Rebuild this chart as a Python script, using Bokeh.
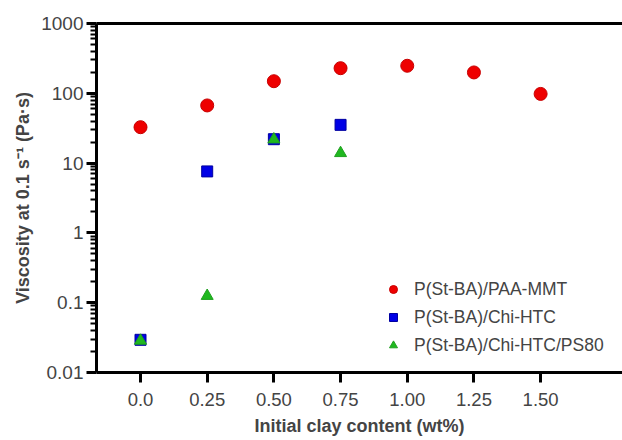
from bokeh.plotting import figure
from bokeh.models import FixedTicker, LinearAxis, Legend, LegendItem, Range1d
from bokeh.embed import file_html
from bokeh.resources import INLINE

# ---- data ----
clay_paa = [0.0, 0.25, 0.50, 0.75, 1.00, 1.25, 1.50]
visc_paa = [32.7, 67.0, 149.0, 229.0, 248.0, 199.0, 98.0]

clay_chi = [0.0, 0.25, 0.50, 0.75]
visc_chi = [0.0294, 7.6, 22.0, 35.3]

clay_ps80 = [0.0, 0.25, 0.50, 0.75]
visc_ps80 = [0.0285, 0.125, 21.8, 13.9]

x_ticks = [0.0, 0.25, 0.50, 0.75, 1.00, 1.25, 1.50]
x_tick_labels = ["0.0", "0.25", "0.50", "0.75", "1.00", "1.25", "1.50"]
y_ticks = [0.01, 0.1, 1, 10, 100, 1000]
y_tick_labels = ["0.01", "0.1", "1", "10", "100", "1000"]

names = ["P(St-BA)/PAA-MMT", "P(St-BA)/Chi-HTC", "P(St-BA)/Chi-HTC/PS80"]

FONT = "Liberation Sans"

p = figure(width=622, height=440, y_axis_type="log",
           x_range=Range1d(-0.165, 1.807), y_range=Range1d(0.01, 1000),
           output_backend="svg", toolbar_location=None,
           min_border_left=96, min_border_right=0, min_border_top=23,
           min_border_bottom=68)
p.outline_line_color = None
p.xgrid.visible = False
p.ygrid.visible = False
p.background_fill_color = "white"
p.border_fill_color = "white"

r1 = p.scatter(clay_paa, visc_paa, marker="circle", size=13,
               fill_color="#ee0000", line_color="#c80000", line_width=1)
r2 = p.scatter(clay_chi, visc_chi, marker="square", size=11,
               fill_color="#0000e6", line_color="#0000a0", line_width=1)
r3 = p.scatter(clay_ps80, visc_ps80, marker="triangle", size=12,
               fill_color="#1fb81f", line_color="#1fa01f", line_width=1)

# x axis
xa = p.xaxis[0]
xa.ticker = FixedTicker(ticks=x_ticks)
xa.major_label_overrides = {t: l for t, l in zip(x_ticks, x_tick_labels)}
xa.axis_line_width = 3
xa.major_tick_line_width = 3
xa.major_tick_out = 10
xa.major_tick_in = 0
xa.minor_tick_line_color = None
xa.major_label_text_font = FONT
xa.major_label_text_font_size = "18.5px"
xa.major_label_standoff = 10
xa.axis_label = "Initial clay content (wt%)"
xa.axis_label_text_font = FONT
xa.axis_label_text_font_style = "bold"
xa.axis_label_text_font_size = "18px"
xa.axis_label_standoff = 7

# y axis
minor = [d * k for d in y_ticks[:-1] for k in range(2, 10)]
ya = p.yaxis[0]
ya.ticker = FixedTicker(ticks=y_ticks, minor_ticks=minor)
ya.major_label_overrides = {t: l for t, l in zip(y_ticks, y_tick_labels)}
ya.axis_line_width = 3
ya.major_tick_line_width = 3
ya.major_tick_out = 10
ya.major_tick_in = 0
ya.minor_tick_line_width = 2
ya.minor_tick_out = 6
ya.minor_tick_in = 0
ya.major_label_text_font = FONT
ya.major_label_text_font_size = "19px"
ya.major_label_standoff = 3
ya.axis_label = "Viscosity at 0.1 s\u207b\u00b9 (Pa\u00b7s)"
ya.axis_label_text_font = FONT
ya.axis_label_text_font_style = "bold"
ya.axis_label_text_font_size = "18px"
ya.axis_label_standoff = 5

# top frame line
top = LinearAxis(ticker=FixedTicker(ticks=[]), axis_line_width=3,
                 major_tick_line_color=None, minor_tick_line_color=None,
                 major_label_text_font_size="0px")
p.add_layout(top, "above")

legend = Legend(items=[LegendItem(label=names[0], renderers=[r1]),
                       LegendItem(label=names[1], renderers=[r2]),
                       LegendItem(label=names[2], renderers=[r3])],
                location=(287, 16), border_line_color=None,
                background_fill_alpha=0, label_text_font=FONT,
                label_text_font_size="17.5px", spacing=6,
                label_standoff=11, glyph_width=20, glyph_height=22)
p.add_layout(legend, "center")

open("out.html", "w").write(file_html(p, INLINE))
